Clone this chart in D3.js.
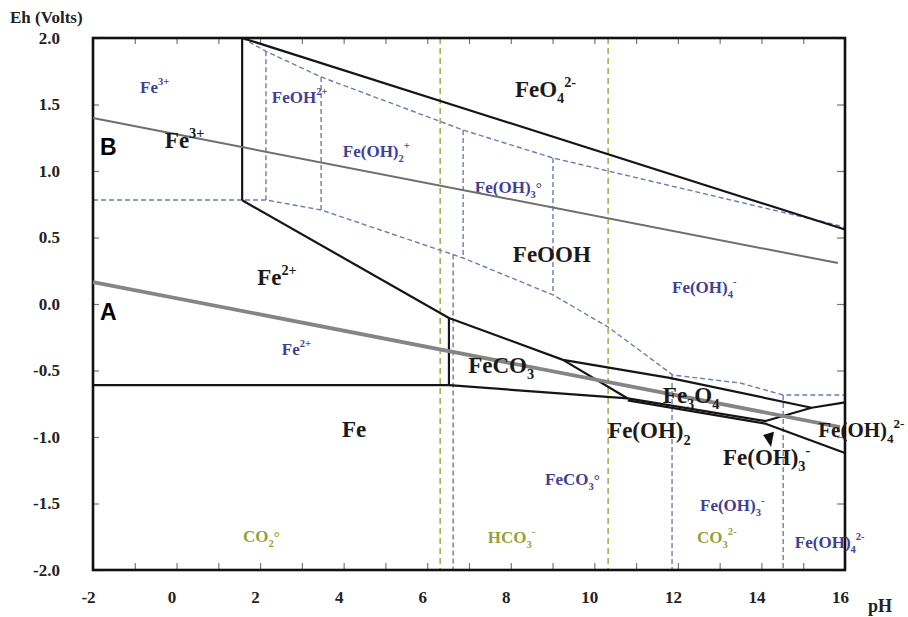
<!DOCTYPE html>
<html lang="en">
<head>
    <meta charset="UTF-8">
    <title>Fe Eh-pH</title>
    <script src="https://d3js.org/d3.v7.min.js"></script>
    <style>
        body { margin: 0; background: #fff; }
        text { font-family: "Liberation Serif", "Times New Roman", serif; font-weight: bold; }
    </style>
</head>
<body>

<svg width="908" height="617"></svg>

<script>

    // axis ticks
    var phTicks = [-2, 0, 2, 4, 6, 8, 10, 12, 14, 16];
    var phMinor = d3.range(-2, 17, 1);
    var ehTicks = [2.0, 1.5, 1.0, 0.5, 0.0, -0.5, -1.0, -1.5, -2.0];

    // solid boundaries of the fields, [pH, Eh]
    var solidLines = [
        [[1.57, 0.78], [1.57, 2.0]],
        [[1.57, 2.0], [16, 0.56]],
        [[1.57, 0.78], [6.52, -0.105]],
        [[-2, -0.61], [6.52, -0.61]],
        [[6.52, -0.105], [6.52, -0.61]],
        [[6.52, -0.105], [9.25, -0.42], [11.8, -0.555], [15.2, -0.78], [16, -0.74]],
        [[9.25, -0.42], [10.8, -0.71]],
        [[6.52, -0.61], [10.8, -0.71]],
        [[10.8, -0.71], [14.1, -0.88], [15.2, -0.78]],
        [[10.8, -0.725], [14.1, -0.9], [16, -1.12]]
    ];

    // dashed boundaries of the dissolved species
    var aqLines = [
        [[-2, 0.782], [2.14, 0.782], [3.46, 0.707], [6.86, 0.346], [9.01, 0.068], [10.33, -0.173],
         [11.88, -0.534], [13.49, -0.594], [14.52, -0.684], [16, -0.684]],
        [[1.57, 2.0], [2.14, 1.90], [3.46, 1.707], [6.86, 1.308], [9.01, 1.098], [16, 0.579]],
        [[2.14, 1.90], [2.14, 0.782]],
        [[3.46, 1.707], [3.46, 0.707]],
        [[6.86, 1.308], [6.86, 0.346]],
        [[9.01, 1.098], [9.01, 0.068]],
        [[6.62, 0.372], [6.62, -2]],
        [[11.86, -0.534], [11.86, -2]],
        [[14.52, -0.684], [14.52, -2]]
    ];

    // carbonate species boundaries (pH)
    var carbPh = [6.31, 10.33];

    // water lines
    var lineA = [[-2, 0.165], [15.88, -0.925]];
    var lineB = [[-2, 1.398], [15.83, 0.308]];

    // labels: text, pH, Eh  (_{} sub, ^{} sup)
    var solidLabels = [
        ["FeO_{4}^{2-}", 8.1, 1.556],
        ["Fe^{3+}", -0.28, 1.173],
        ["Fe^{2+}", 1.93, 0.143],
        ["FeOOH", 8.05, 0.316],
        ["Fe", 3.96, -1.0],
        ["FeCO_{3}", 6.98, -0.519],
        ["Fe_{3}O_{4}", 11.64, -0.744],
        ["Fe(OH)_{2}", 10.33, -1.008],
        ["Fe(OH)_{3}^{-}", 13.08, -1.21]
    ];
    var edgeLabels = [
        ["Fe(OH)_{4}^{2-}", 15.36, -1.0]
    ];
    var aqLabels = [
        ["Fe^{3+}", -0.875, 1.586],
        ["FeOH^{2+}", 2.28, 1.511],
        ["Fe(OH)_{2}^{+}", 3.98, 1.105],
        ["Fe(OH)_{3}^{o}", 7.14, 0.835],
        ["Fe(OH)_{4}^{-}", 11.86, 0.083],
        ["Fe^{2+}", 2.52, -0.383],
        ["FeCO_{3}^{o}", 8.82, -1.36],
        ["Fe(OH)_{3}^{-}", 12.53, -1.56],
        ["Fe(OH)_{4}^{2-}", 14.8, -1.835]
    ];
    var carbLabels = [
        ["CO_{2}^{o}", 1.59, -1.79],
        ["HCO_{3}^{-}", 7.45, -1.797],
        ["CO_{3}^{2-}", 12.46, -1.797]
    ];
    var lineLabels = [["A", -1.83, -0.12], ["B", -1.83, 1.12]];
    var arrowHead = [[14.04, -0.985], [14.3, -0.96], [14.23, -1.075]];

    var margin = {top: 38, right: 63, bottom: 47, left: 93};
    var width = 908 - margin.left - margin.right;
    var height = 617 - margin.top - margin.bottom;

    var x = d3.scaleLinear().domain([-2, 16]).range([0, width]);
    var y = d3.scaleLinear().domain([-2, 2]).range([height, 0]);

    var svg = d3.select('svg');
    var g = svg.append('g')
        .attr('transform', 'translate(' + margin.left + ',' + margin.top + ')');

    var line = d3.line()
        .x(function (d) { return x(d[0]); })
        .y(function (d) { return y(d[1]); });

    // axes with inward ticks
    var axisB = d3.axisBottom(x).tickValues(phMinor).tickSize(-7).tickPadding(21)
        .tickFormat(function (d) { return phTicks.indexOf(d) >= 0 ? String(d) : ''; });
    var axisT = d3.axisTop(x).tickValues(phMinor).tickSize(-6).tickFormat('');
    var axisL = d3.axisLeft(y).tickValues(ehTicks).tickSize(-6).tickPadding(33)
        .tickFormat(function (d) { return d.toFixed(1); });
    var axisR = d3.axisRight(y).tickValues(ehTicks).tickSize(-8).tickFormat('');

    function styleAxis(sel) {
        sel.select('.domain').remove();
        sel.selectAll('.tick line').attr('stroke', '#777').attr('stroke-width', 1.2);
        sel.selectAll('text').attr('font-size', 17).attr('fill', '#222')
            .style('font-family', '"Liberation Serif", serif').style('font-weight', 'bold');
    }

    g.append('g').attr('transform', 'translate(0,' + height + ')').call(axisB).call(styleAxis)
        .selectAll('text').attr('x', -5);
    g.append('g').call(axisT).call(styleAxis);
    g.append('g').call(axisL).call(styleAxis);
    g.append('g').attr('transform', 'translate(' + width + ',0)').call(axisR).call(styleAxis);

    // carbonate dashed lines
    g.selectAll('.carb')
        .data(carbPh)
        .enter()
        .append('line')
        .attr('x1', function (d) { return x(d); })
        .attr('x2', function (d) { return x(d); })
        .attr('y1', y(2))
        .attr('y2', y(-2))
        .attr('stroke', '#a3aa45')
        .attr('stroke-width', 1.5)
        .attr('stroke-dasharray', '6,4');

    // dissolved species dashed lines
    g.selectAll('.aq')
        .data(aqLines)
        .enter()
        .append('path')
        .attr('d', line)
        .attr('fill', 'none')
        .attr('stroke', '#6f7bb0')
        .attr('stroke-width', 1.4)
        .attr('stroke-dasharray', '5,3');

    // field boundaries
    g.selectAll('.solid')
        .data(solidLines)
        .enter()
        .append('path')
        .attr('d', line)
        .attr('fill', 'none')
        .attr('stroke', '#151515')
        .attr('stroke-width', 2.2)
        .attr('stroke-linejoin', 'round');

    // frame
    g.append('rect')
        .attr('x', 0).attr('y', 0)
        .attr('width', width).attr('height', height)
        .attr('fill', 'none')
        .attr('stroke', '#111')
        .attr('stroke-width', 2.6);

    // rich text helper
    function rich(sel, str, size) {
        var parts = str.split(/(_\{[^}]*\}|\^\{[^}]*\})/).filter(function (s) { return s; });
        var shift = 0;
        parts.forEach(function (p) {
            var t = p, target = 0, fs = size;
            if (p[0] === '_') { t = p.slice(2, -1); target = size * 0.28; fs = size * 0.62; }
            if (p[0] === '^') { t = p.slice(2, -1); target = -size * 0.45; fs = size * 0.62; }
            if (t === 'o') { t = '\u00b0'; target = 0; fs = size * 0.9; }
            sel.append('tspan').attr('dy', target - shift).attr('font-size', fs).text(t);
            shift = target;
        });
    }

    function drawLabels(data, size, color) {
        data.forEach(function (d) {
            var t = g.append('text')
                .attr('x', x(d[1]))
                .attr('y', y(d[2]))
                .attr('fill', color)
                .attr('font-size', size);
            rich(t, d[0], size);
        });
    }

    drawLabels(aqLabels, 17, '#3f3f96');
    drawLabels(carbLabels, 17, '#95a13a');

    // water lines A and B
    g.append('path').datum(lineA).attr('d', line)
        .attr('fill', 'none').attr('stroke', '#858585').attr('stroke-width', 3.8);
    g.append('path').datum(lineB).attr('d', line)
        .attr('fill', 'none').attr('stroke', '#6e6e6e').attr('stroke-width', 2);

    drawLabels(solidLabels, 23, '#1a1a1a');
    drawLabels(edgeLabels, 21, '#1a1a1a');

    // small arrow head
    g.append('path')
        .datum(arrowHead)
        .attr('d', function (d) { return line(d) + 'Z'; })
        .attr('fill', '#111');

    g.selectAll('.ab')
        .data(lineLabels)
        .enter()
        .append('text')
        .attr('x', function (d) { return x(d[1]); })
        .attr('y', function (d) { return y(d[2]); })
        .attr('font-size', 23)
        .style('font-family', '"Liberation Sans", Arial, sans-serif')
        .attr('fill', '#000')
        .text(function (d) { return d[0]; });

    // axis titles
    svg.append('text').attr('x', 10).attr('y', 23).attr('font-size', 17).attr('fill', '#222').text('Eh (Volts)');
    svg.append('text').attr('x', 868).attr('y', 612).attr('font-size', 18).attr('fill', '#222').text('pH');

</script>

</body>
</html>
